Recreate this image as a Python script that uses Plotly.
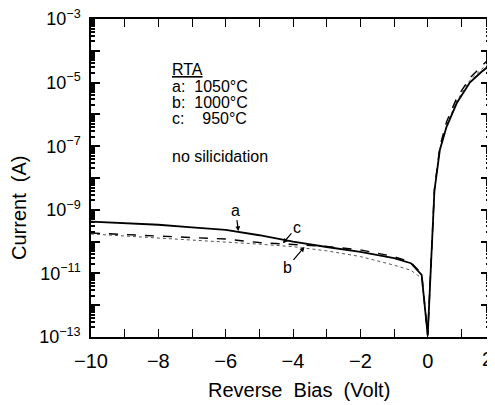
import plotly.graph_objects as go

# Reverse/forward bias (V)
x_rev = [-10, -9, -8, -7, -6, -5, -4, -3, -2, -1, -0.5, -0.18, 0]
x_fwd = [0.2, 0.36, 0.56, 0.86, 1.25, 1.6, 1.85]

# log10(current) values
a_rev = [-9.37, -9.42, -9.47, -9.55, -9.63, -9.80, -10.00, -10.17, -10.32, -10.52, -10.68, -11.05, -12.95]
b_rev = [-9.76, -9.82, -9.88, -9.94, -10.00, -10.08, -10.16, -10.29, -10.47, -10.74, -10.90, -11.15, -12.95]
c_rev = [-9.73, -9.78, -9.83, -9.88, -9.92, -10.03, -10.10, -10.15, -10.26, -10.47, -10.65, -11.00, -12.95]

a_fwd = [-8.40, -7.12, -6.39, -5.65, -5.00, -4.66, -4.45]
b_fwd = [-8.38, -7.08, -6.34, -5.58, -4.93, -4.58, -4.36]
c_fwd = [-8.35, -7.02, -6.23, -5.49, -4.86, -4.48, -4.23]

y_tickvals = [-13, -12, -11, -10, -9, -8, -7, -6, -5, -4, -3]

FONT = "Liberation Sans"

def to_current(vals):
    return [10 ** v for v in vals]

x_all = x_rev + x_fwd
fig = go.Figure()
fig.add_trace(go.Scatter(x=x_all, y=to_current(b_rev + b_fwd), mode="lines",
                         line=dict(color="#555555", width=1, dash="dot"), name="b"))
fig.add_trace(go.Scatter(x=x_all, y=to_current(c_rev + c_fwd), mode="lines",
                         line=dict(color="black", width=1.4, dash="dash"), name="c"))
fig.add_trace(go.Scatter(x=x_all, y=to_current(a_rev + a_fwd), mode="lines",
                         line=dict(color="black", width=1.8), name="a"))

ytext = [("10<sup>\u2212%d</sup>" % (-v)) if v % 2 != 0 else "" for v in y_tickvals]

fig.update_layout(
    width=495, height=405,
    margin=dict(l=83, r=13, t=11, b=76, autoexpand=False),
    paper_bgcolor="white", plot_bgcolor="white",
    showlegend=False,
    font=dict(family=FONT, color="black"),
    xaxis=dict(range=[-10, 1.85], tickmode="array", automargin=False,
               tickvals=[-10, -8, -6, -4, -2, 0],
               ticktext=["\u221210", "\u22128", "\u22126", "\u22124", "\u22122", "0"],
               ticks="inside", ticklen=8, tickcolor="black", tickwidth=1.2,
               showline=True, linecolor="black", linewidth=1.5, mirror="ticks",
               showgrid=False, zeroline=False, ticklabelstandoff=5,
               ticklabeloverflow="allow",
               minor=dict(dtick=1, ticks="inside", ticklen=8, tickcolor="black", showgrid=False),
               tickfont=dict(size=20, family=FONT)),
    yaxis=dict(type="log", range=[-13, -3], tickmode="array", automargin=False,
               tickvals=[10 ** v for v in y_tickvals], ticktext=ytext,
               ticks="inside", ticklen=9, tickcolor="black", tickwidth=1.5,
               showline=True, linecolor="black", linewidth=1.5, mirror="ticks",
               showgrid=False, zeroline=False, ticklabelstandoff=5,
               ticklabeloverflow="allow",
               minor=dict(dtick="D1", ticks="inside", ticklen=4, tickcolor="black", showgrid=False),
               tickfont=dict(size=18, family=FONT)),
)

# axis titles
fig.add_annotation(x=0.5, y=0, xref="paper", yref="paper", text="Reverse  Bias  (Volt)",
                   showarrow=False, yanchor="middle", yshift=-53, xshift=8,
                   font=dict(size=20, family=FONT))
fig.add_annotation(x=0, y=0.5, xref="paper", yref="paper", text="Current  (A)",
                   showarrow=False, textangle=-90, xanchor="center", xshift=-72, yshift=-30,
                   font=dict(size=20, family=FONT))

# tick label "2" just beyond the right end of the axis (x range ends at 1.85)
fig.add_annotation(x=1, y=0, xref="paper", yref="paper", text="2", showarrow=False,
                   yanchor="top", yshift=-9, xshift=5, font=dict(size=20, family=FONT))

legend_lines = [
    (-4.60, "<u>RTA</u>"),
    (-5.11, "a:  1050\u00b0C"),
    (-5.61, "b:  1000\u00b0C"),
    (-6.14, "c:  \u00a0\u00a0950\u00b0C"),
    (-7.31, "no silicidation"),
]
for yl, txt in legend_lines:
    fig.add_annotation(x=-7.65, y=yl, xref="x", yref="y", text=txt, showarrow=False,
                       xanchor="left", yanchor="middle", font=dict(size=16, family=FONT))

# curve labels with arrows (head at curve point)
labels = [("a", -5.62, -9.67, -3, -21), ("c", -4.3, -10.05, 14, -16), ("b", -3.66, -10.17, -17, 20)]
for txt, hx, hy, axp, ayp in labels:
    fig.add_annotation(x=hx, y=hy, xref="x", yref="y", text=txt, showarrow=True,
                       ax=axp, ay=ayp, arrowhead=2, arrowsize=0.8, arrowwidth=1.2,
                       arrowcolor="black", font=dict(size=16, family=FONT))

fig.write_html("out.html")
